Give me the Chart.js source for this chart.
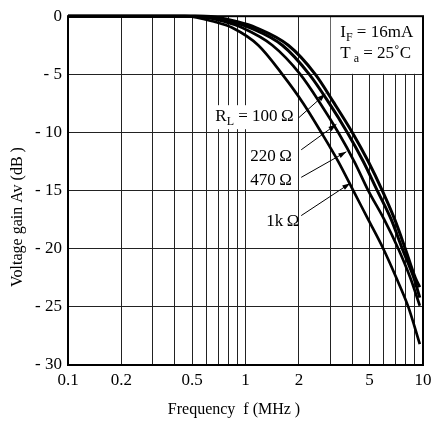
<!DOCTYPE html>
<html><head><meta charset="utf-8">
<script src="https://cdn.jsdelivr.net/npm/chart.js@4/dist/chart.umd.min.js"></script>
<style>html,body{margin:0;padding:0;background:#fff;}</style>
</head><body>
<canvas id="c" width="438" height="423"></canvas>
<script>
// ---- data (frequency in MHz, gain in dB) ----
const freq100 = [0.1, 0.3, 0.594, 0.911, 1.15, 1.742, 2.474, 3.164, 3.997, 4.918, 5.897, 6.937, 7.948, 9.05, 9.594];
const gain100 = [0, 0, 0, -0.5, -1, -2.5, -5, -7.5, -10, -12.5, -15, -17.5, -20, -22.5, -23.3];
const freq220 = [0.1, 0.3, 0.557, 0.843, 1.064, 1.612, 2.288, 2.966, 3.746, 4.61, 5.527, 6.629, 7.645, 8.876, 9.594];
const gain220 = [0, 0, 0, -0.5, -1, -2.5, -5, -7.5, -10, -12.5, -15, -17.5, -20, -22.5, -24.2];
const freq470 = [0.1, 0.3, 0.52, 0.77, 0.959, 1.416, 2.036, 2.639, 3.333, 4.102, 4.918, 6.052, 7.259, 8.481, 9.594];
const gain470 = [0, 0, 0, -0.5, -1, -2.5, -5, -7.5, -10, -12.5, -15, -17.5, -20, -22.5, -24.9];
const freq1k = [0.1, 0.3, 0.458, 0.676, 0.843, 1.18, 1.612, 2.117, 2.673, 3.333, 4.049, 4.918, 5.974, 7.073, 8.264, 9.594];
const gain1k = [0, 0, 0, -0.5, -1, -2.5, -5, -7.5, -10, -12.5, -15, -17.5, -20, -22.5, -25, -28.2];

const xTicks = [0.1,0.2,0.3,0.4,0.5,0.6,0.7,0.8,0.9,1,2,3,4,5,6,7,8,9,10];
const xLabelTicks = [0.1,0.2,0.5,1,2,5,10];
const yMin = -30, yMax = 0, yStep = 5;

const seriesNames = ['100', '220', '470', '1k'];

// annotation texts (data coordinates: MHz, dB)
const curveLabels = [
  {parts:[['R'],['L','sub'],[' = 100\u2009\u03A9']], f:0.676, db:-8.6, bg:true, arrow:[1.99,-8.75, 2.82,-6.68]},
  {parts:[['220\u2009\u03A9']], f:1.064, db:-12.0, arrow:[2.06,-11.49, 3.25,-9.3]},
  {parts:[['470\u2009\u03A9']], f:1.064, db:-14.1, arrow:[2.06,-13.86, 3.70,-11.66]},
  {parts:[['1k\u2009\u03A9']], f:1.31, db:-17.6, arrow:[2.06,-17.15, 3.89,-14.37]}
];
const condLines = [
  [['I'],['F','sub'],[' = 16mA']],
  [['T'],[' a','sub'],[' = 25\u02DAC']]
];

const FONT = '"Liberation Serif", "Times New Roman", serif';

function pts(fs, gs){ return fs.map((f,i)=>({x:f, y:gs[i]})); }

function richWidth(ctx, parts, size){
  let w = 0;
  for (const p of parts){
    ctx.font = (p[1]==='sub' ? Math.round(size*0.72) : size) + 'px ' + FONT;
    w += ctx.measureText(p[0]).width;
  }
  return w;
}
function drawRich(ctx, parts, x, y, size){
  let cx = x;
  ctx.textBaseline = 'alphabetic';
  ctx.textAlign = 'left';
  for (const p of parts){
    const sub = p[1] === 'sub';
    ctx.font = (sub ? Math.round(size*0.72) : size) + 'px ' + FONT;
    ctx.fillText(p[0], cx, sub ? y + size*0.22 : y);
    cx += ctx.measureText(p[0]).width;
  }
}
function drawArrow(ctx, x1,y1,x2,y2){
  ctx.beginPath(); ctx.moveTo(x1,y1); ctx.lineTo(x2,y2);
  ctx.lineWidth = 1; ctx.strokeStyle = '#000'; ctx.stroke();
  const a = Math.atan2(y2-y1, x2-x1), L = 8, W = 2.6;
  const bx = x2 - L*Math.cos(a), by = y2 - L*Math.sin(a);
  ctx.beginPath();
  ctx.moveTo(x2,y2);
  ctx.lineTo(bx + W*Math.sin(a), by - W*Math.cos(a));
  ctx.lineTo(bx - W*Math.sin(a), by + W*Math.cos(a));
  ctx.closePath(); ctx.fillStyle = '#000'; ctx.fill();
}

const SIZE = 17;
const decor = {
  id: 'decor',
  beforeDatasetsDraw(chart){
    const {ctx, chartArea:a, scales:{x, y}} = chart;
    ctx.save();
    ctx.fillStyle = '#fff';
    // white condition box bounded by the 3 MHz and -5 dB grid lines
    const bx = x.getPixelForValue(3), by = y.getPixelForValue(-5);
    ctx.fillRect(bx+0.5, a.top, a.right - bx - 0.5, by - a.top - 0.5);
    // white backgrounds behind curve labels
    for (const c of curveLabels){
      if (!c.bg) continue;
      const lx = x.getPixelForValue(c.f), ly = y.getPixelForValue(c.db) + 5;
      const w = richWidth(ctx, c.parts, SIZE);
      ctx.fillStyle = '#fff';
      ctx.fillRect(lx - 2, ly - 16, w + 4, 24);
    }
    ctx.restore();
  },
  afterDatasetsDraw(chart){
    const {ctx, chartArea:a, scales:{x, y}} = chart;
    ctx.save();
    ctx.strokeStyle = '#000'; ctx.lineWidth = 2;
    ctx.strokeRect(a.left, a.top, a.right - a.left, a.bottom - a.top);
    ctx.fillStyle = '#000';
    const tx = x.getPixelForValue(3.42);
    drawRich(ctx, condLines[0], tx, y.getPixelForValue(-1.69)+1, SIZE);
    drawRich(ctx, condLines[1], tx, y.getPixelForValue(-3.55)+1, SIZE);
    for (const c of curveLabels){
      drawRich(ctx, c.parts, x.getPixelForValue(c.f), y.getPixelForValue(c.db)+5, SIZE);
      const [f1,d1,f2,d2] = c.arrow;
      drawArrow(ctx, x.getPixelForValue(f1), y.getPixelForValue(d1), x.getPixelForValue(f2), y.getPixelForValue(d2));
    }
    ctx.fillStyle = '#000';
    ctx.font = '16px ' + FONT;
    ctx.textAlign = 'center'; ctx.textBaseline = 'middle';
    ctx.fillText('Frequency  f (MHz )', 234, 410);
    ctx.translate(18, 217); ctx.rotate(-Math.PI/2);
    ctx.fillText('Voltage gain Av (dB )', 0, 0);
    ctx.restore();
  }
};

const widths = [3, 3, 2.7, 2.7];
const sets = [[freq100,gain100],[freq220,gain220],[freq470,gain470],[freq1k,gain1k]];

new Chart(document.getElementById('c'), {
  type: 'line',
  data: {
    datasets: sets.map((s,i)=>({
      label: seriesNames[i],
      data: pts(s[0], s[1]),
      borderColor: '#000',
      borderWidth: widths[i],
      pointRadius: 0,
      fill: false,
      cubicInterpolationMode: 'monotone',
      clip: 4
    }))
  },
  options: {
    responsive: false,
    devicePixelRatio: 1,
    animation: false,
    layout: {padding: {left: 0, right: 15, top: 10, bottom: 0}},
    plugins: {legend: {display: false}, tooltip: {enabled: false}},
    scales: {
      x: {
        type: 'logarithmic', min: 0.1, max: 10,
        afterBuildTicks: s => { s.ticks = xTicks.map(v => ({value: v})); },
        afterFit: s => { s.height = 58; },
        border: {display: false},
        grid: {color: '#222', lineWidth: 1, drawTicks: false},
        ticks: {
          autoSkip: false, maxRotation: 0, padding: 5, color: '#000',
          font: {family: FONT, size: 17},
          callback: v => xLabelTicks.includes(v) ? String(v) : ''
        }
      },
      y: {
        min: yMin, max: yMax,
        afterFit: s => { s.width = 68; },
        border: {display: false},
        grid: {color: '#222', lineWidth: 1, drawTicks: false},
        ticks: {
          stepSize: yStep, padding: 6, color: '#000',
          font: {family: FONT, size: 17},
          callback: v => v === 0 ? '0' : '- ' + Math.abs(v)
        }
      }
    }
  },
  plugins: [decor]
});
</script>
</body></html>
